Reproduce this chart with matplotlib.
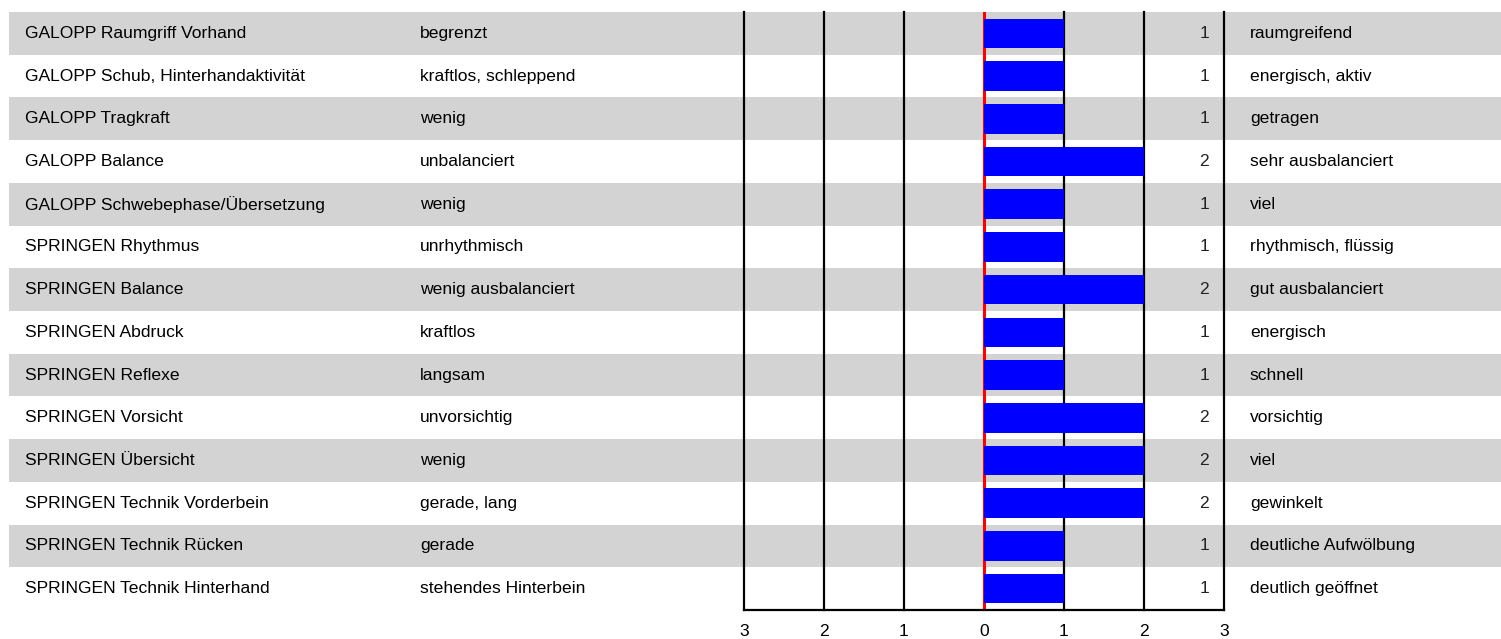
import matplotlib
matplotlib.use("Agg")
import matplotlib.pyplot as plt
import numpy as np

plt.rcParams['font.family'] = ['Liberation Sans', 'DejaVu Sans']

merkmale = [
    "GALOPP Raumgriff Vorhand",
    "GALOPP Schub, Hinterhandaktivität",
    "GALOPP Tragkraft",
    "GALOPP Balance",
    "GALOPP Schwebephase/Übersetzung",
    "SPRINGEN Rhythmus",
    "SPRINGEN Balance",
    "SPRINGEN Abdruck",
    "SPRINGEN Reflexe",
    "SPRINGEN Vorsicht",
    "SPRINGEN Übersicht",
    "SPRINGEN Technik Vorderbein",
    "SPRINGEN Technik Rücken",
    "SPRINGEN Technik Hinterhand",
]
links = [
    "begrenzt", "kraftlos, schleppend", "wenig", "unbalanciert", "wenig",
    "unrhythmisch", "wenig ausbalanciert", "kraftlos", "langsam",
    "unvorsichtig", "wenig", "gerade, lang", "gerade", "stehendes Hinterbein",
]
rechts = [
    "raumgreifend", "energisch, aktiv", "getragen", "sehr ausbalanciert", "viel",
    "rhythmisch, flüssig", "gut ausbalanciert", "energisch", "schnell",
    "vorsichtig", "viel", "gewinkelt", "deutliche Aufwölbung", "deutlich geöffnet",
]
werte = [1, 1, 1, 2, 1, 1, 2, 1, 1, 2, 2, 2, 1, 1]
skala = [-3, -2, -1, 0, 1, 2, 3]
skala_labels = ["3", "2", "1", "0", "1", "2", "3"]

W, H = 1501, 639
fig = plt.figure(figsize=(W / 100, H / 100), dpi=100)

# chart area: x=-3 at px 744, x=3 at px 1224; rows from px 12 to 610
x0, x1 = 744, 1224
y_top, y_bot = 12, 610
ax = fig.add_axes([x0 / W, 1 - y_bot / H, (x1 - x0) / W, (y_bot - y_top) / H])
ax.set_xlim(-3, 3)
n = len(merkmale)
ax.set_ylim(n - 0.5, -0.5)
ax.patch.set_alpha(0)

px = (x1 - x0) / 6.0  # pixels per unit

def xdata(p):
    return -3 + (p - x0) / px

fs = 12.6
rows = np.arange(n)

# grey stripes over full width
for i in rows:
    if i % 2 == 0:
        ax.axhspan(i - 0.5, i + 0.5, xmin=(9 - x0) / (x1 - x0), xmax=(W - x0) / (x1 - x0),
                   color="#d3d3d3", lw=0, zorder=0, clip_on=False)

# grid lines
for v in skala:
    if v == 0:
        continue
    ax.axvline(v, color="black", lw=1.6, zorder=1, clip_on=False)
ax.axvline(0, color="#ff0000", lw=2.2, zorder=1)

ax.barh(rows, werte, height=0.69, color="#0000ff", zorder=2)

for i in rows:
    ax.text(xdata(25), i, merkmale[i], ha="left", va="center", fontsize=fs, clip_on=False)
    ax.text(xdata(420), i, links[i], ha="left", va="center", fontsize=fs, clip_on=False)
    ax.text(xdata(1209), i, str(werte[i]), ha="right", va="center", fontsize=fs, color="#222222")
    ax.text(xdata(1250), i, rechts[i], ha="left", va="center", fontsize=fs, clip_on=False)

for s in ["top", "left", "right"]:
    ax.spines[s].set_visible(False)
ax.spines["bottom"].set_linewidth(1.6)
ax.spines["bottom"].set_capstyle("projecting")
ax.set_xticks(skala)
ax.set_xticklabels(skala_labels, fontsize=fs)
ax.tick_params(axis="x", length=0, pad=10)
ax.set_yticks([])

fig.savefig("out.png", dpi=100)
